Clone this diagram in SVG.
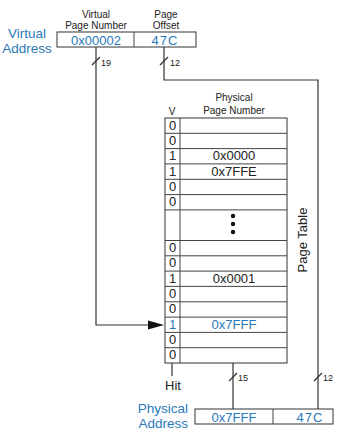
<svg xmlns="http://www.w3.org/2000/svg" width="343" height="441" viewBox="0 0 343 441">
<style>
text{font-family:"Liberation Sans",Arial,sans-serif;fill:#222}
.lbl{font-size:13.5px;fill:#2a79b8}
.hdr{font-size:10px;text-anchor:middle}
.val{font-size:13px;text-anchor:middle}
.blue{fill:#2a79b8}
.bw{font-size:9px}
.box{fill:#fff;stroke:#333;stroke-width:1}
.grid{stroke:#444;stroke-width:1;fill:none}
.wire{stroke:#333;stroke-width:1.2;fill:none}
</style>
<rect width="343" height="441" fill="#fff"/>
<g id="virtual-address">
<text class="lbl" x="27" y="38" text-anchor="middle">Virtual</text>
<text class="lbl" x="27" y="53" text-anchor="middle">Address</text>
<text class="hdr" x="96" y="17.5">Virtual</text>
<text class="hdr" x="96" y="29">Page Number</text>
<text class="hdr" x="166" y="17.5">Page</text>
<text class="hdr" x="166" y="29">Offset</text>
<rect class="box" x="57" y="32" width="139" height="15"/>
<line class="grid" x1="134" y1="32" x2="134" y2="47"/>
<text class="val blue" x="96" y="45">0x00002</text>
<text class="val blue" x="165" y="45" letter-spacing="1">47C</text>
</g>
<g id="page-table">
<text class="hdr" x="172" y="115">V</text>
<text class="hdr" x="234" y="101">Physical</text>
<text class="hdr" x="234" y="114">Page Number</text>
<rect class="box" x="165" y="118" width="122" height="245"/>
<line class="grid" x1="180" y1="118" x2="180" y2="363"/>
<g class="grid">
<line x1="165" y1="133.3" x2="287" y2="133.3"/>
<line x1="165" y1="148.6" x2="287" y2="148.6"/>
<line x1="165" y1="163.9" x2="287" y2="163.9"/>
<line x1="165" y1="179.3" x2="287" y2="179.3"/>
<line x1="165" y1="194.6" x2="287" y2="194.6"/>
<line x1="165" y1="209.9" x2="287" y2="209.9"/>
<line x1="165" y1="240.5" x2="287" y2="240.5"/>
<line x1="165" y1="255.8" x2="287" y2="255.8"/>
<line x1="165" y1="271.1" x2="287" y2="271.1"/>
<line x1="165" y1="286.4" x2="287" y2="286.4"/>
<line x1="165" y1="301.8" x2="287" y2="301.8"/>
<line x1="165" y1="317.1" x2="287" y2="317.1"/>
<line x1="165" y1="332.4" x2="287" y2="332.4"/>
<line x1="165" y1="347.7" x2="287" y2="347.7"/>
</g>
<g class="val">
<text x="172.5" y="129.6" class="val">0</text>
<text x="172.5" y="144.9" class="val">0</text>
<text x="172.5" y="160.2" class="val">1</text>
<text x="172.5" y="175.5" class="val">1</text>
<text x="172.5" y="190.9" class="val">0</text>
<text x="172.5" y="206.2" class="val">0</text>
<text x="172.5" y="252.1" class="val">0</text>
<text x="172.5" y="267.4" class="val">0</text>
<text x="172.5" y="282.7" class="val">1</text>
<text x="172.5" y="298.0" class="val">0</text>
<text x="172.5" y="313.4" class="val">0</text>
<text x="172.5" y="328.7" class="val blue">1</text>
<text x="172.5" y="344.0" class="val">0</text>
<text x="172.5" y="359.3" class="val">0</text>
<text x="234" y="160.2" class="val">0x0000</text>
<text x="234" y="175.5" class="val">0x7FFE</text>
<text x="234" y="282.7" class="val">0x0001</text>
<text x="234" y="328.7" class="val blue">0x7FFF</text>
</g>
<circle cx="233" cy="216" r="2.2" fill="#111"/>
<circle cx="233" cy="224" r="2.2" fill="#111"/>
<circle cx="233" cy="232" r="2.2" fill="#111"/>
<text x="307" y="240" font-size="13" text-anchor="middle" transform="rotate(-90 307 240)">Page Table</text>
</g>
<g id="physical-address">
<text class="lbl" x="188" y="413" text-anchor="end">Physical</text>
<text class="lbl" x="188" y="428" text-anchor="end">Address</text>
<rect class="box" x="195" y="409" width="138" height="15"/>
<line class="grid" x1="273" y1="409" x2="273" y2="424"/>
<text class="val blue" x="234" y="422">0x7FFF</text>
<text class="val blue" x="310" y="422" letter-spacing="1">47C</text>
</g>
<g id="hit">
<text x="173" y="390" font-size="13" text-anchor="middle">Hit</text>
</g>
<g id="connectors">
<polyline class="wire" points="96,47 96,325 149,325"/>
<polygon points="148,320.5 164,325 148,329.5" fill="#111"/>
<polyline class="wire" points="164,47 164,80 318,80 318,409"/>
<line class="wire" x1="233" y1="363" x2="233" y2="409"/>
<line class="wire" x1="172" y1="363" x2="172" y2="376"/>
<g class="wire">
<line x1="92" y1="65" x2="100" y2="57"/>
<line x1="160" y1="65" x2="168" y2="57"/>
<line x1="229" y1="381" x2="237" y2="373"/>
<line x1="314" y1="381" x2="322" y2="373"/>
</g>
<text class="bw" x="101" y="66">19</text>
<text class="bw" x="170" y="66">12</text>
<text class="bw" x="238" y="381">15</text>
<text class="bw" x="323" y="381">12</text>
</g>
</svg>
